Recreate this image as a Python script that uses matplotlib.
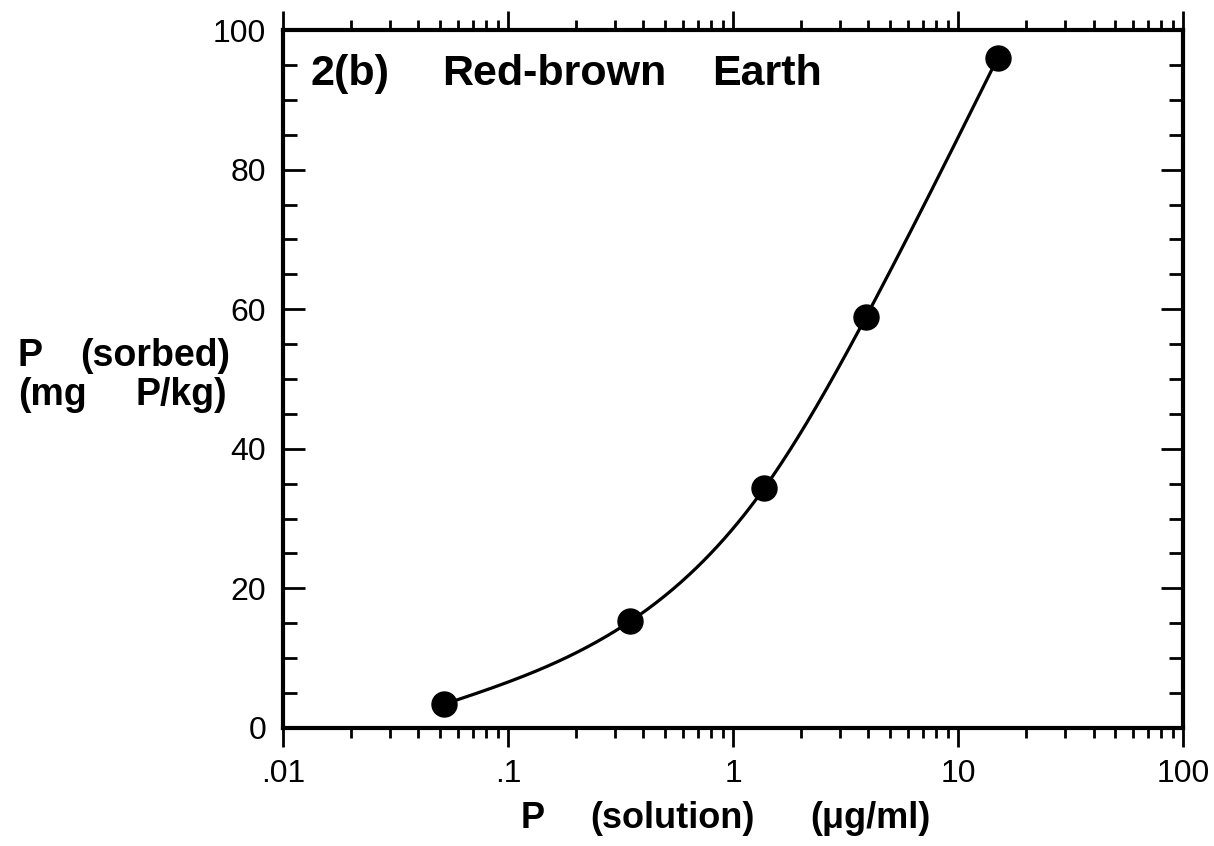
import numpy as np
import matplotlib
matplotlib.use("Agg")
import matplotlib.pyplot as plt
from matplotlib.ticker import FixedLocator, LogLocator, MultipleLocator, NullFormatter

plt.rcParams['font.family'] = ['Liberation Sans', 'DejaVu Sans']

# P in solution (ug/ml) and P sorbed (mg P/kg)
p_solution = [0.052, 0.35, 1.38, 3.9, 15.0]
p_sorbed = [3.4, 15.3, 34.4, 58.9, 96.0]

x_ticks = [0.01, 0.1, 1, 10, 100]
x_tick_labels = ['.01', '.1', '1', '10', '100']
y_ticks = [0, 20, 40, 60, 80, 100]

W, H = 1214, 846


def natural_spline(xk, yk, xs):
    """Natural cubic spline through the knots (xk, yk), evaluated at xs."""
    xk = np.asarray(xk, float)
    yk = np.asarray(yk, float)
    n = len(xk)
    h = np.diff(xk)
    A = np.zeros((n, n))
    b = np.zeros(n)
    A[0, 0] = A[-1, -1] = 1.0
    for i in range(1, n - 1):
        A[i, i - 1] = h[i - 1]
        A[i, i] = 2 * (h[i - 1] + h[i])
        A[i, i + 1] = h[i]
        b[i] = 6 * ((yk[i + 1] - yk[i]) / h[i] - (yk[i] - yk[i - 1]) / h[i - 1])
    m = np.linalg.solve(A, b)
    idx = np.clip(np.searchsorted(xk, xs) - 1, 0, n - 2)
    x0, x1 = xk[idx], xk[idx + 1]
    hh = x1 - x0
    t0, t1 = x1 - xs, xs - x0
    return (m[idx] * t0 ** 3 / (6 * hh) + m[idx + 1] * t1 ** 3 / (6 * hh)
            + (yk[idx] / hh - m[idx] * hh / 6) * t0
            + (yk[idx + 1] / hh - m[idx + 1] * hh / 6) * t1)


def put(px, py, s, size, ha='left'):
    """Bold text placed by pixel position (origin top-left)."""
    fig.text(px / W, 1 - py / H, s, fontsize=size, fontweight='bold',
             ha=ha, va='center')


fig = plt.figure(figsize=(W / 100, H / 100), dpi=100)
ax = fig.add_axes([0.2331, 0.1395, 0.7414, 0.825])

lx = np.log10(p_solution)
xs = np.linspace(lx[0], lx[-1], 400)
ys = natural_spline(lx, p_sorbed, xs)
ax.plot(10 ** xs, ys, color='black', lw=2.3, zorder=2)
ax.plot(p_solution, p_sorbed, 'o', color='black', ms=18, zorder=3)

ax.set_xscale('log')
ax.set_xlim(0.01, 100)
ax.set_ylim(0, 100)

ax.xaxis.set_major_locator(FixedLocator(x_ticks))
ax.set_xticklabels(x_tick_labels)
ax.xaxis.set_minor_locator(LogLocator(base=10, subs=np.arange(2, 10)))
ax.xaxis.set_minor_formatter(NullFormatter())
ax.yaxis.set_major_locator(FixedLocator(y_ticks))
ax.yaxis.set_minor_locator(MultipleLocator(5))

for s in ax.spines.values():
    s.set_linewidth(3)

ax.tick_params(axis='x', which='both', direction='out', top=True, bottom=True,
               labelsize=23, pad=8, width=2)
ax.tick_params(axis='x', which='major', length=14)
ax.tick_params(axis='x', which='minor', length=7)
ax.tick_params(axis='y', which='both', direction='in', left=True, right=True,
               labelsize=23, pad=12, width=2)
ax.tick_params(axis='y', which='major', length=16)
ax.tick_params(axis='y', which='minor', length=10)

# panel title
put(310, 74, '2(b)', 31)
put(442, 74, 'Red-brown', 31)
put(712, 74, 'Earth', 31)

# y-axis label (horizontal, two lines)
put(18, 356, 'P', 27)
put(80, 356, '(sorbed)', 27)
put(18, 395, '(mg', 27)
put(135, 395, 'P/kg)', 27)

# x-axis label
put(521, 818, 'P', 26)
put(590, 818, '(solution)', 26)
put(810, 818, '(\u03bcg/ml)', 26)

fig.savefig('out.png', dpi=100)
